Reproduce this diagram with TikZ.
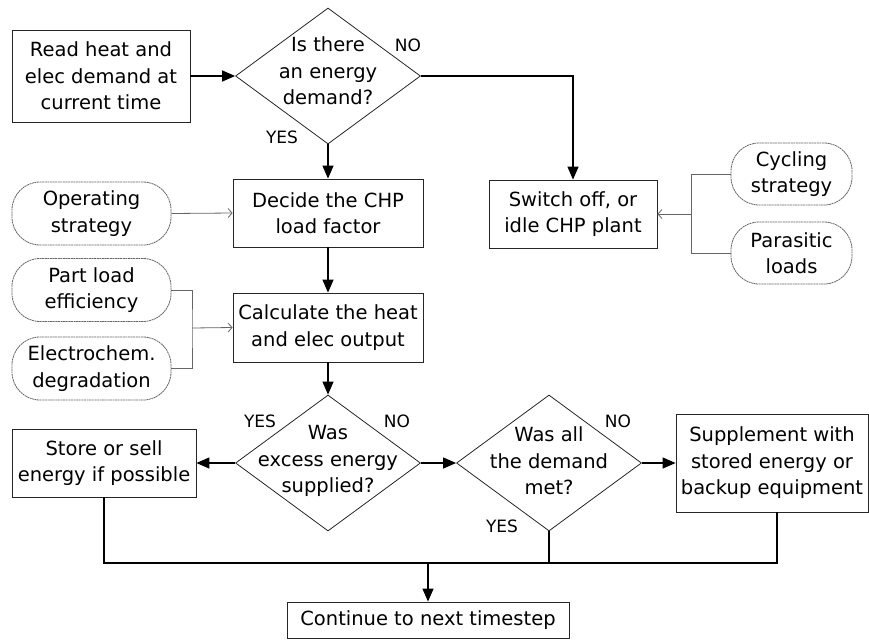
\documentclass[tikz,border=0pt]{standalone}
\usepackage{fontspec}
\setmainfont{DejaVu Sans}
\usetikzlibrary{arrows.meta,shapes.geometric,calc}
\begin{document}
\begin{tikzpicture}[x=1pt,y=-1pt,
  font=\fontsize{19.5}{26.5}\selectfont,
  box/.style={draw=black!85,line width=0.8pt,inner sep=0pt,align=center,fill=white},
  rbox/.style={draw=black!60,line width=0.8pt,dash pattern=on 2pt off 0.6pt,rounded corners=28pt,inner sep=0pt,align=center,minimum width=159pt,minimum height=63pt},
  dia/.style={draw=black!85,line width=0.8pt,diamond,inner sep=0pt,minimum width=185pt,minimum height=136pt},
  arr/.style={line width=1.3pt,-{Triangle[length=13pt,width=11pt]}},
  ln/.style={line width=1.3pt},
  aux/.style={draw=black!60,line width=0.8pt},
  auxarr/.style={draw=black!60,line width=0.8pt,-{Straight Barb[length=4pt,width=9pt]}},
  lbl/.style={font=\fontsize{17}{20}\selectfont,inner sep=0pt}]
\useasboundingbox (0,0) rectangle (869,640);
% main boxes
\node[box,minimum width=178pt,minimum height=92pt] (read) at (101,76) {Read heat and\\elec demand at\\current time};
\node[dia] (d1) at (328,76) {};
\node[align=center,inner sep=0pt] (d1t) at (328,71) {Is there\\an energy\\demand?};
\node[box,minimum width=190pt,minimum height=68pt] (dec) at (328,213) {Decide the CHP\\load factor};
\node[box,minimum width=190pt,minimum height=69pt] (calc) at (328,327.5) {Calculate the heat\\and elec output};
\node[box,minimum width=168pt,minimum height=68pt] (sw) at (573,214) {Switch off, or\\idle CHP plant};
\node[dia] (d2) at (328,463) {};
\node[align=center,inner sep=0pt] (d2t) at (328,461) {Was\\excess energy\\supplied?};
\node[dia] (d3) at (549,463) {};
\node[align=center,inner sep=0pt] (d3t) at (549,461) {Was all\\the demand\\met?};
\node[box,minimum width=184pt,minimum height=68pt] (store) at (104,463) {Store or sell\\energy if possible};
\node[box,minimum width=192pt,minimum height=98pt] (sup) at (772,463) {Supplement with\\stored energy or\\backup equipment};
\node[box,minimum width=282pt,minimum height=36pt] (cont) at (428,620) {Continue to next timestep};
% side inputs
\node[rbox] (op) at (91.5,213.5) {Operating\\strategy};
\node[rbox] (ple) at (91.5,290) {Part load\\efficiency};
\node[rbox] (ed) at (91.5,368.5) {Electrochem.\\degradation};
\node[rbox,minimum width=121pt,minimum height=62pt] (cyc) at (791.5,174) {Cycling\\strategy};
\node[rbox,minimum width=121pt,minimum height=62pt] (par) at (791.5,253) {Parasitic\\loads};
% labels
\node[lbl] (l1n) at (408,45) {NO};
\node[lbl] (l1y) at (282,137) {YES};
\node[lbl] (l2y) at (260,421) {YES};
\node[lbl] (l2n) at (397,421) {NO};
\node[lbl] (l3n) at (618,421) {NO};
\node[lbl] (l3y) at (502,526) {YES};
% coordinates
\coordinate (jR) at (691,214);
\coordinate (jL) at (192,328);
\coordinate (jB) at (428,563);
\coordinate (jS) at (777,563);
% main flow
\draw[arr] (read.east) -- (d1.west);
\draw[arr] (d1.east) -| (sw.north);
\draw[arr] (d1.south) -- (dec.north);
\draw[arr] (dec.south) -- (calc.north);
\draw[arr] (calc.south) -- (d2.north);
\draw[arr] (d2.west) -- (store.east);
\draw[arr] (d2.east) -- (d3.west);
\draw[arr] (d3.east) -- (sup.west);
\draw[ln] (store.south) |- (jB);
\draw[ln] (jS |- sup.south) -- (jS) -- (jB);
\draw[ln] (d3.south) -- (d3.south |- jB);
\draw[arr] (jB) -- (cont.north);
% side connectors
\draw[auxarr] (op.east) -- (dec.west);
\draw[aux] (ple.east) -| (jL) |- (ed.east);
\draw[auxarr] (jL) -- (calc.west);
\draw[aux] (cyc.west) -| (jR) |- (par.west);
\draw[auxarr] (jR) -- (sw.east);
\end{tikzpicture}
\end{document}
